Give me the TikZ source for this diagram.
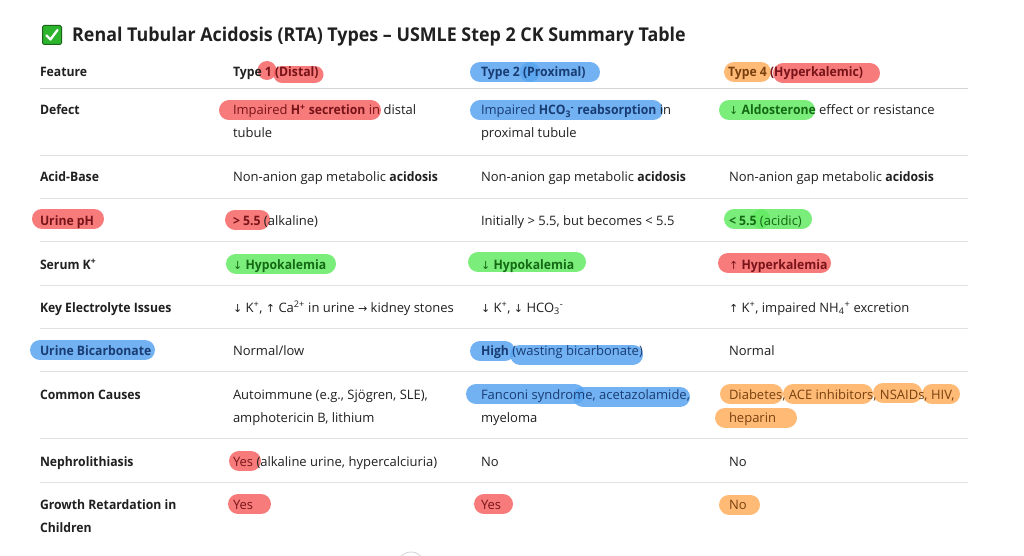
\documentclass[tikz,border=0pt]{standalone}
\usepackage{fontspec}
\setmainfont{Open Sans}[BoldFeatures={FakeStretch=0.94}]
\newfontfamily\symf[Scale=0.85]{DejaVu Sans}
\newcommand\arrdn{{\symf ↓}}
\newcommand\arrup{{\symf ↑}}
\newcommand\arrrt{{\symf →}}
\definecolor{txt}{RGB}{32,32,32}
\definecolor{rulec}{RGB}{225,225,225}
\definecolor{rulehd}{RGB}{212,212,212}
\definecolor{hred}{RGB}{246,100,100}
\definecolor{hblue}{RGB}{90,165,240}
\definecolor{hgreen}{RGB}{100,235,100}
\definecolor{horg}{RGB}{255,175,95}
\definecolor{tred}{RGB}{120,20,25}
\definecolor{tblue}{RGB}{25,60,115}
\definecolor{tgreen}{RGB}{20,105,20}
\definecolor{torg}{RGB}{120,65,15}
\definecolor{boxg}{RGB}{45,180,45}
\definecolor{boxd}{RGB}{25,100,25}
\tikzset{
  cell/.style={anchor=base west, inner sep=0pt, outer sep=0pt, text=txt, font=\fontsize{13}{16}\selectfont},
  lab/.style={cell, font=\fontsize{13}{16}\selectfont\bfseries},
  hl/.style={line width=20pt, line cap=round, opacity=0.85},
  rule/.style={draw=rulec, line width=0.9pt},
}
\begin{document}
\begin{tikzpicture}[x=1pt,y=-1pt]
\useasboundingbox[fill=white] (0,0) rectangle (1024,556);
% title
\draw[boxd, fill=boxg, line width=1pt, rounded corners=1.5pt] (42.5,25.5) rectangle (61.5,44.5);
\draw[white, line width=2.3pt, line cap=round, line join=round] (46.5,35.5) -- (50.5,39.5) -- (57.5,30);
\node[anchor=base west, inner sep=0pt, text=txt, font=\fontsize{19}{22}\selectfont\bfseries] (title) at (72,42) {Renal Tubular Acidosis (RTA) Types – USMLE Step 2 CK Summary Table};
% rules
\draw[rule, draw=rulehd] (40,88) -- (968,88);
\foreach \yy in {155,198,241,285,328,371,438,482} \draw[rule] (40,\yy) -- (968,\yy);
% bottom control
\draw[gray!35, line width=0.8pt] (411,566) circle (14);
% highlights
\fill[hred, opacity=0.85] (267,70.5) circle (9.5);
\draw[hl, hred, line width=17pt] (282,74.5) -- (315,74.5);
\draw[hl, hblue] (480,72) -- (530,72);
\draw[hl, hblue] (530,72.5) -- (590,72.5);
\draw[hl, horg] (734,72) -- (761,72);
\draw[hl, hred] (783,73.5) -- (870,73.5);
\draw[hl, hred] (229,110.5) -- (371,110.5);
\draw[hl, hblue] (480,110.5) -- (653,110.5);
\draw[hl, hgreen] (729,110) -- (805,110);
\draw[hl, hred] (42,218.5) -- (94,218.5);
\draw[hl, hred] (235,219.5) -- (260,219.5);
\draw[hl, hgreen] (734,219) -- (760,219);
\draw[hl, hgreen] (762,219) -- (802,219);
\draw[hl, hgreen] (236,263.5) -- (326,263.5);
\draw[hl, hgreen] (478,262) -- (576,262);
\draw[hl, hred] (728,263) -- (821,263);
\draw[hl, hblue] (40,350) -- (145,350);
\draw[hl, hblue] (480,351) -- (505,351);
\draw[hl, hblue] (520,354.5) -- (633,354.5);
\draw[hl, hblue] (476,394) -- (575,394);
\draw[hl, hblue] (583,397) -- (680,397);
\draw[hl, horg] (730,394) -- (773,394);
\draw[hl, horg] (793,394) -- (863,394);
\draw[hl, horg] (883,393) -- (912,393);
\draw[hl, horg] (932,394) -- (950,394);
\draw[hl, horg] (725,417.5) -- (787,417.5);
\draw[hl, hred] (239,461) -- (251,461);
\draw[hl, hred] (238,504) -- (261,504);
\draw[hl, hred] (484,504) -- (503,504);
\draw[hl, horg] (729,504.5) -- (750,504.5);
% header row
\node[lab] (h1) at (40,77) {Feature};
\node[lab] (h2) at (233,77) {Type \textcolor{tred}{1 (Distal)}};
\node[lab, text=tblue] (h3) at (481,77) {Type 2 (Proximal)};
\node[lab] (h4) at (728,77) {\textcolor{torg}{Type 4} \textcolor{tred}{(Hyperkalemic)}};
% defect
\node[lab] (d1) at (40,115) {Defect};
\node[cell] (d2a) at (233,115) {\textcolor{tred}{Impaired \textbf{H\textsuperscript{+} secretion} in} distal};
\node[cell] (d2b) at (233,138) {tubule};
\node[cell] (d3a) at (481,115) {\textcolor{tblue}{Impaired \textbf{HCO\textsubscript{3}\textsuperscript{-} reabsorption}} in};
\node[cell] (d3b) at (481,138) {proximal tubule};
\node[cell] (d4) at (729,115) {\textcolor{tgreen}{\arrdn\ \textbf{Aldosterone}} effect or resistance};
% acid-base
\node[lab] (a1) at (40,182) {Acid-Base};
\node[cell] (a2) at (233,182) {Non-anion gap metabolic \textbf{acidosis}};
\node[cell] (a3) at (481,182) {Non-anion gap metabolic \textbf{acidosis}};
\node[cell] (a4) at (729,182) {Non-anion gap metabolic \textbf{acidosis}};
% urine pH
\node[lab, text=tred] (p1) at (40,225) {Urine pH};
\node[cell] (p2) at (233,225) {\textcolor{tred}{\textbf{> 5.5}} (alkaline)};
\node[cell] (p3) at (481,225) {Initially > 5.5, but becomes < 5.5};
\node[cell] (p4) at (729,225) {\textcolor{tgreen}{\textbf{< 5.5} (acidic)}};
% serum K
\node[lab] (s1) at (40,269) {Serum K\textsuperscript{+}};
\node[cell] (s2) at (233,269) {\textcolor{tgreen}{\arrdn\ \textbf{Hypokalemia}}};
\node[cell] (s3) at (481,269) {\textcolor{tgreen}{\arrdn\ \textbf{Hypokalemia}}};
\node[cell] (s4) at (729,269) {\textcolor{tred}{\arrup\ \textbf{Hyperkalemia}}};
% key electrolyte
\node[lab] (k1) at (40,312) {Key Electrolyte Issues};
\node[cell] (k2) at (233,312) {\arrdn\ K\textsuperscript{+}, \arrup\ Ca\textsuperscript{2+} in urine \arrrt\ kidney stones};
\node[cell] (k3) at (481,312) {\arrdn\ K\textsuperscript{+}, \arrdn\ HCO\textsubscript{3}\textsuperscript{-}};
\node[cell] (k4) at (729,312) {\arrup\ K\textsuperscript{+}, impaired NH\textsubscript{4}\textsuperscript{+} excretion};
% urine bicarbonate
\node[lab, text=tblue] (b1) at (40,355) {Urine Bicarbonate};
\node[cell] (b2) at (233,355) {Normal/low};
\node[cell] (b3) at (481,355) {\textcolor{tblue}{\textbf{High} (wasting bicarbonate)}};
\node[cell] (b4) at (729,355) {Normal};
% common causes
\node[lab] (c1) at (40,399) {Common Causes};
\node[cell] (c2a) at (233,399) {Autoimmune (e.g., Sjögren, SLE),};
\node[cell] (c2b) at (233,422) {amphotericin B, lithium};
\node[cell] (c3a) at (481,399) {\textcolor{tblue}{Fanconi syndrome, acetazolamide,}};
\node[cell] (c3b) at (481,422) {myeloma};
\node[cell] (c4a) at (729,399) {\textcolor{torg}{Diabetes, ACE inhibitors, NSAIDs, HIV,}};
\node[cell] (c4b) at (729,422) {\textcolor{torg}{heparin}};
% nephrolithiasis
\node[lab] (n1) at (40,466) {Nephrolithiasis};
\node[cell] (n2) at (233,466) {\textcolor{tred}{Yes} (alkaline urine, hypercalciuria)};
\node[cell] (n3) at (481,466) {No};
\node[cell] (n4) at (729,466) {No};
% growth
\node[lab] (g1a) at (40,509) {Growth Retardation in};
\node[lab] (g1b) at (40,532) {Children};
\node[cell] (g2) at (233,509) {\textcolor{tred}{Yes}};
\node[cell] (g3) at (481,509) {\textcolor{tred}{Yes}};
\node[cell] (g4) at (729,509) {\textcolor{torg}{No}};
\end{tikzpicture}
\end{document}
